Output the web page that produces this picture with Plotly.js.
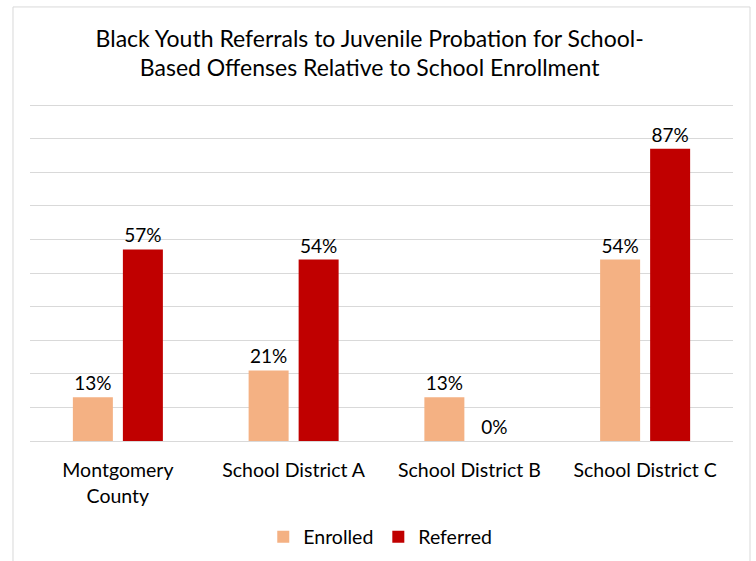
<!DOCTYPE html>
<html>
<head>
<meta charset="utf-8">
<script src="https://cdn.plot.ly/plotly-3.0.1.min.js"></script>
<style>html,body{margin:0;padding:0;background:#fff;}#chart{width:756px;height:561px;}</style>
</head>
<body>
<div id="chart"></div>
<script>
const categories = ["Montgomery<br>County", "School District A", "School District B", "School District C"];
const enrolled = [13, 21, 13, 54];
const referred = [57, 54, 0, 87];
const seriesNames = ["Enrolled", "Referred"];

const FONT = "Lato, 'Open Sans', sans-serif";
const fmt = v => v + "%";

const traces = [
  {type: "bar", name: seriesNames[0], x: categories, y: enrolled,
   marker: {color: "#F4B183"}, text: enrolled.map(fmt), textposition: "outside",
   textfont: {family: FONT, size: 19, color: "#000"}, cliponaxis: false, hoverinfo: "none"},
  {type: "bar", name: seriesNames[1], x: categories, y: referred,
   marker: {color: "#C00000"}, text: referred.map(fmt), textposition: "outside",
   textfont: {family: FONT, size: 19, color: "#000"}, cliponaxis: false, hoverinfo: "none"}
];

const layout = {
  width: 756, height: 561,
  margin: {l: 30, r: 23, t: 104, b: 120},
  paper_bgcolor: "#fff", plot_bgcolor: "#fff",
  font: {family: FONT, color: "#000"},
  title: {text: "Black Youth Referrals to Juvenile Probation for School-<br>Based Offenses Relative to School Enrollment",
          font: {family: FONT, size: 23, color: "#000"}, x: 0.489, xanchor: "center", y: 0.917, yanchor: "middle",
          automargin: false},
  barmode: "group", bargap: 0.431, bargroupgap: 0.2,
  xaxis: {showgrid: false, showline: true, linecolor: "#d9d9d9", linewidth: 1, ticks: "",
          tickfont: {family: FONT, size: 19.5, color: "#000"}, ticklabelstandoff: 12,
          automargin: false, fixedrange: true},
  yaxis: {range: [0, 100.3], dtick: 10, showgrid: true, gridcolor: "#d9d9d9", gridwidth: 1,
          showticklabels: false, zeroline: false, showline: false, ticks: "",
          automargin: false, fixedrange: true},
  showlegend: true,
  legend: {orientation: "h", xref: "container", x: 0.503, xanchor: "center",
           yref: "container", y: 0.0428, yanchor: "middle",
           font: {family: FONT, size: 19.5, color: "#000"}, itemwidth: 30, traceorder: "normal"},
  shapes: [
    {type: "rect", xref: "paper", yref: "paper", x0: -0.0242, x1: 1.0242, y0: -0.6, y1: 1.288,
     line: {color: "#d9d9d9", width: 1}, fillcolor: "rgba(0,0,0,0)", layer: "below"}
  ]
};

Plotly.newPlot("chart", traces, layout, {displayModeBar: false, staticPlot: true});
</script>
</body>
</html>
